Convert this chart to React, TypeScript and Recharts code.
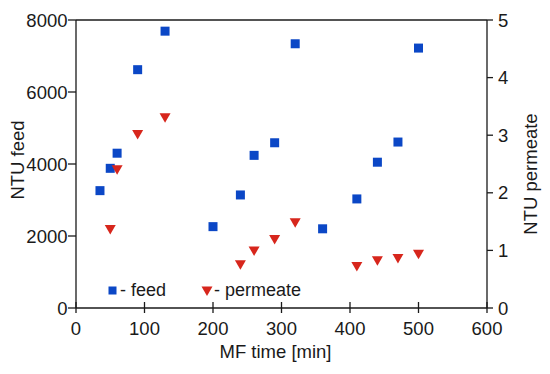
import React from 'react';
import { ScatterChart, Scatter, XAxis, YAxis, ReferenceLine, Legend } from 'recharts';

const feedTime = [35, 50, 60, 90, 130, 200, 240, 260, 290, 320, 360, 410, 440, 470, 500];
const feedNtu = [3260, 3880, 4300, 6620, 7690, 2260, 3140, 4240, 4590, 7340, 2200, 3030, 4050, 4610, 7220];

const permeateTime = [50, 60, 90, 130, 240, 260, 290, 320, 410, 440, 470, 500];
const permeateNtu = [1.37, 2.41, 3.02, 3.31, 0.76, 1.0, 1.2, 1.49, 0.73, 0.83, 0.87, 0.94];

const xTicks = [0, 100, 200, 300, 400, 500, 600];
const feedTicks = [0, 2000, 4000, 6000, 8000];
const permeateTicks = [0, 1, 2, 3, 4, 5];

const BLUE = '#0b47c6';
const RED = '#d7261c';
const INK = '#1a1a1a';
const FONT = '"Liberation Sans", Arial, sans-serif';
const FS = 18.5;

const feedData = feedTime.map((x, i) => ({ x, y: feedNtu[i] }));
const permeateData = permeateTime.map((x, i) => ({ x, y: permeateNtu[i] }));

const SquareDot = (props: any) => {
  const { cx, cy } = props;
  return <rect x={cx - 4.5} y={cy - 4.5} width={9} height={9} fill={BLUE} />;
};

const TriangleDot = (props: any) => {
  const { cx, cy } = props;
  return <path d={`M${cx - 5.5},${cy - 4} L${cx + 5.5},${cy - 4} L${cx},${cy + 5.5} Z`} fill={RED} />;
};

const BottomTick = (props: any) => {
  const { x, y, payload } = props;
  return (
    <g>
      <line x1={x} x2={x} y1={y - 6} y2={y + 5} stroke={INK} strokeWidth={1.3} />
      <text x={x} y={y + 27} textAnchor="middle" fontSize={FS} fill={INK} fontFamily={FONT}>
        {payload.value}
      </text>
    </g>
  );
};

const LeftTick = (props: any) => {
  const { x, y, payload } = props;
  return (
    <g>
      <line x1={x - 8} x2={x} y1={y} y2={y} stroke={INK} strokeWidth={1.3} />
      <text x={x - 8.5} y={y + 6.5} textAnchor="end" fontSize={FS} fill={INK} fontFamily={FONT}>
        {payload.value}
      </text>
    </g>
  );
};

const RightTick = (props: any) => {
  const { x, y, payload } = props;
  return (
    <g>
      <line x1={x} x2={x + 6} y1={y} y2={y} stroke={INK} strokeWidth={1.3} />
      <text x={x + 11} y={y + 6.5} textAnchor="start" fontSize={FS} fill={INK} fontFamily={FONT}>
        {payload.value}
      </text>
    </g>
  );
};

const LegendBox = () => (
  <div style={{ display: 'flex', alignItems: 'center', fontFamily: FONT, fontSize: 18, color: INK, whiteSpace: 'nowrap' }}>
    <svg width={9} height={9} style={{ marginRight: 3 }}>
      <rect x={0.5} y={0.5} width={8} height={8} fill={BLUE} />
    </svg>
    <span>- feed</span>
    <svg width={12} height={12} style={{ marginLeft: 35, marginRight: 1 }}>
      <path d="M0.5,1.5 L11.5,1.5 L6,11 Z" fill={RED} />
    </svg>
    <span>- permeate</span>
  </div>
);

export default function App() {
  return (
    <div style={{ width: 542, height: 366 }}>
      <ScatterChart width={542} height={366} margin={{ top: 12, right: 0, bottom: 0, left: 0 }}>
        <XAxis
          type="number"
          dataKey="x"
          domain={[0, 600]}
          ticks={xTicks}
          height={66}
          tickSize={0}
          tickMargin={0}
          tickLine={false}
          tick={<BottomTick />}
          axisLine={{ stroke: INK, strokeWidth: 1.3 }}
          label={(p: any) => {
            const vb = p.viewBox;
            return (
              <text x={vb.x + vb.width / 2 - 6} y={vb.y + 50} textAnchor="middle" fontSize={FS} fill={INK} fontFamily={FONT}>
                MF time [min]
              </text>
            );
          }}
        />
        <YAxis
          yAxisId="left"
          type="number"
          dataKey="y"
          domain={[0, 8000]}
          ticks={feedTicks}
          width={68}
          tickSize={0}
          tickMargin={0}
          tickLine={false}
          tick={<LeftTick />}
          axisLine={{ stroke: INK, strokeWidth: 1.3 }}
          label={(p: any) => {
            const vb = p.viewBox;
            const cx = vb.x + 9;
            const cy = vb.y + vb.height / 2 - 4;
            return (
              <text x={cx} y={cy} transform={`rotate(-90 ${cx} ${cy})`} textAnchor="middle" dominantBaseline="central" fontSize={FS} fill={INK} fontFamily={FONT}>
                NTU feed
              </text>
            );
          }}
        />
        <YAxis
          yAxisId="right"
          orientation="right"
          type="number"
          dataKey="y"
          domain={[0, 5]}
          ticks={permeateTicks}
          width={63}
          tickSize={0}
          tickMargin={0}
          tickLine={false}
          tick={<RightTick />}
          axisLine={{ stroke: INK, strokeWidth: 1.3 }}
          label={(p: any) => {
            const vb = p.viewBox;
            const cx = vb.x + 43;
            const cy = vb.y + vb.height / 2 + 10;
            return (
              <text x={cx} y={cy} transform={`rotate(-90 ${cx} ${cy})`} textAnchor="middle" dominantBaseline="central" fontSize={FS} fill={INK} fontFamily={FONT}>
                NTU permeate
              </text>
            );
          }}
        />
        <ReferenceLine yAxisId="left" y={8000} stroke={INK} strokeWidth={1.3} />
        <Legend
          layout="horizontal"
          verticalAlign="middle"
          content={<LegendBox />}
          wrapperStyle={{ position: 'absolute', left: 100, top: 272, width: 'auto' }}
        />
        <Scatter name="feed" data={feedData} yAxisId="left" shape={<SquareDot />} isAnimationActive={false} />
        <Scatter name="permeate" data={permeateData} yAxisId="right" shape={<TriangleDot />} isAnimationActive={false} />
      </ScatterChart>
    </div>
  );
}
